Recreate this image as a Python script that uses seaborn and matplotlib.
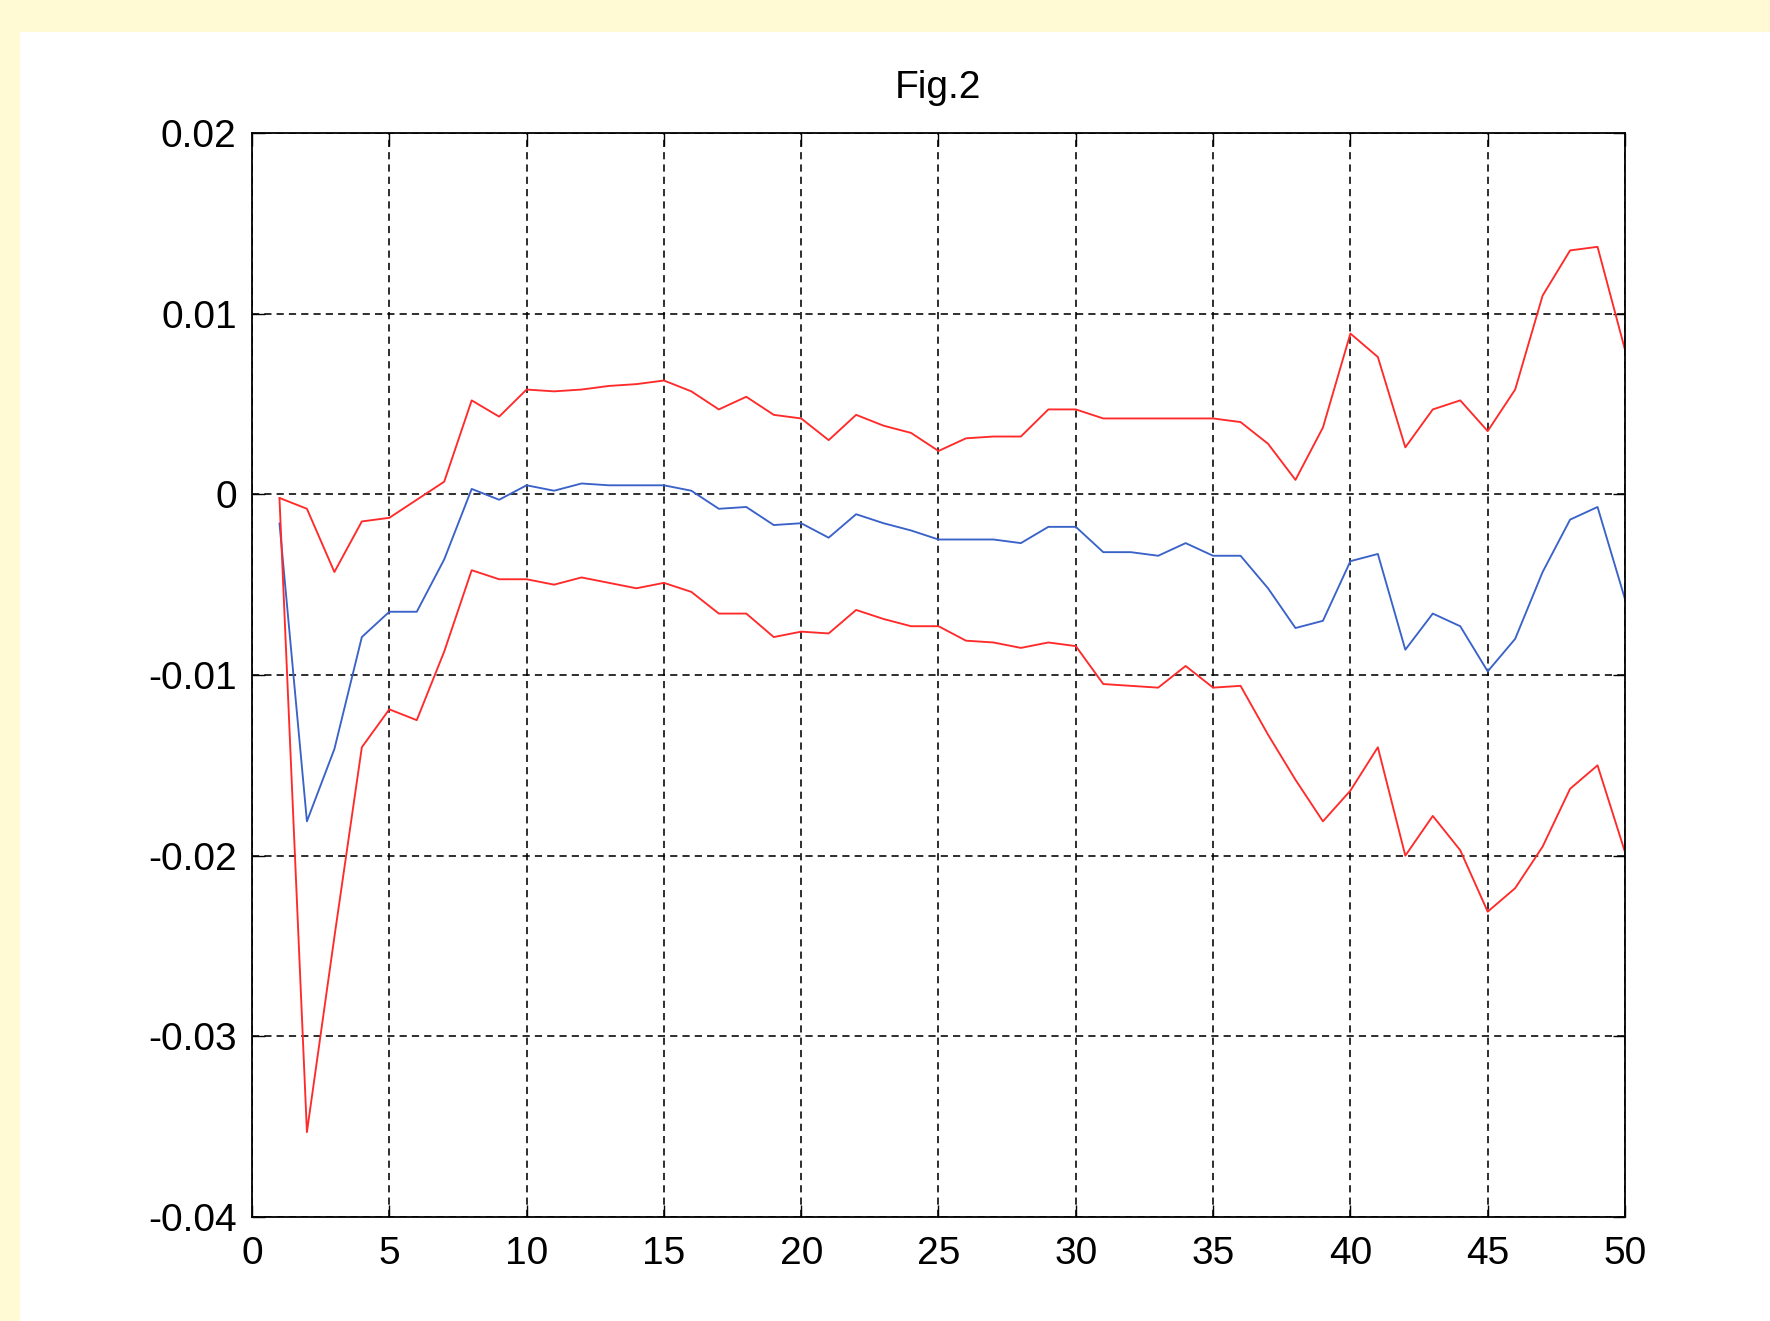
import matplotlib
matplotlib.use('Agg')
import matplotlib.pyplot as plt
import seaborn as sns
import pandas as pd
from matplotlib.patches import Rectangle

steps = list(range(1, 51))

response = [
    -0.0016, -0.0181, -0.0141, -0.0079, -0.0065, -0.0065, -0.0036, 0.0003, -0.0003, 0.0005,
    0.0002, 0.0006, 0.0005, 0.0005, 0.0005, 0.0002, -0.0008, -0.0007, -0.0017, -0.0016,
    -0.0024, -0.0011, -0.0016, -0.0020, -0.0025, -0.0025, -0.0025, -0.0027, -0.0018, -0.0018,
    -0.0032, -0.0032, -0.0034, -0.0027, -0.0034, -0.0034, -0.0052, -0.0074, -0.0070, -0.0037,
    -0.0033, -0.0086, -0.0066, -0.0073, -0.0098, -0.0080, -0.0043, -0.0014, -0.0007, -0.0058,
]

upper_band = [
    -0.0002, -0.0008, -0.0043, -0.0015, -0.0013, -0.0003, 0.0007, 0.0052, 0.0043, 0.0058,
    0.0057, 0.0058, 0.0060, 0.0061, 0.0063, 0.0057, 0.0047, 0.0054, 0.0044, 0.0042,
    0.0030, 0.0044, 0.0038, 0.0034, 0.0024, 0.0031, 0.0032, 0.0032, 0.0047, 0.0047,
    0.0042, 0.0042, 0.0042, 0.0042, 0.0042, 0.0040, 0.0028, 0.0008, 0.0037, 0.0089,
    0.0076, 0.0026, 0.0047, 0.0052, 0.0035, 0.0058, 0.0110, 0.0135, 0.0137, 0.0080,
]

lower_band = [
    -0.0002, -0.0353, -0.0245, -0.0140, -0.0119, -0.0125, -0.0087, -0.0042, -0.0047, -0.0047,
    -0.0050, -0.0046, -0.0049, -0.0052, -0.0049, -0.0054, -0.0066, -0.0066, -0.0079, -0.0076,
    -0.0077, -0.0064, -0.0069, -0.0073, -0.0073, -0.0081, -0.0082, -0.0085, -0.0082, -0.0084,
    -0.0105, -0.0106, -0.0107, -0.0095, -0.0107, -0.0106, -0.0133, -0.0158, -0.0181, -0.0164,
    -0.0140, -0.0200, -0.0178, -0.0197, -0.0231, -0.0218, -0.0195, -0.0163, -0.0150, -0.0198,
]

xticks = [0, 5, 10, 15, 20, 25, 30, 35, 40, 45, 50]
yticks = [-0.04, -0.03, -0.02, -0.01, 0, 0.01, 0.02]
ytick_labels = ['-0.04', '-0.03', '-0.02', '-0.01', '0', '0.01', '0.02']
title = 'Fig.2'

sns.set_theme(style='white')
plt.rcParams['font.family'] = ['Liberation Sans', 'DejaVu Sans']
plt.rcParams['axes.unicode_minus'] = False

df = pd.DataFrame({'step': steps, 'response': response,
                   'upper': upper_band, 'lower': lower_band})

fig = plt.figure(figsize=(17.7, 13.21), dpi=100, facecolor='white')
# yellow page border, top and left
fig.patches.append(Rectangle((0, 1 - 32 / 1321), 1, 32 / 1321, transform=fig.transFigure,
                             facecolor='#fffad4', edgecolor='none', zorder=0))
fig.patches.append(Rectangle((0, 0), 20 / 1770, 1, transform=fig.transFigure,
                             facecolor='#fffad4', edgecolor='none', zorder=0))

ax = fig.add_axes([252 / 1770, 1 - 1217 / 1321, 1373 / 1770, 1084 / 1321])
ax.set_facecolor('white')

sns.lineplot(data=df, x='step', y='upper', color='#ff2a2a', linewidth=1.35, ax=ax)
sns.lineplot(data=df, x='step', y='response', color='#3a62c8', linewidth=1.35, ax=ax)
sns.lineplot(data=df, x='step', y='lower', color='#ff2a2a', linewidth=1.35, ax=ax)

ax.set_xlim(0, 50)
ax.set_ylim(-0.04, 0.02)
ax.set_xticks(xticks)
ax.set_xticklabels([str(t) for t in xticks])
ax.set_yticks(yticks)
ax.set_yticklabels(ytick_labels)
ax.set_xlabel('')
ax.set_ylabel('')

ax.grid(True, color='black', linestyle=(0, (4.5, 3.2)), linewidth=1.15)
ax.set_axisbelow(True)
for s in ax.spines.values():
    s.set_color('black')
    s.set_linewidth(1.3)
    s.set_visible(True)

ax.tick_params(axis='both', direction='in', length=9, width=1.0, color='black',
               labelsize=28, labelcolor='black', top=True, right=True,
               bottom=True, left=True)
ax.tick_params(axis='x', pad=14)
ax.tick_params(axis='y', pad=11)

ax.set_title(title, fontsize=28, color='black', pad=25)

plt.savefig('out.png', dpi=100, facecolor=fig.get_facecolor())
